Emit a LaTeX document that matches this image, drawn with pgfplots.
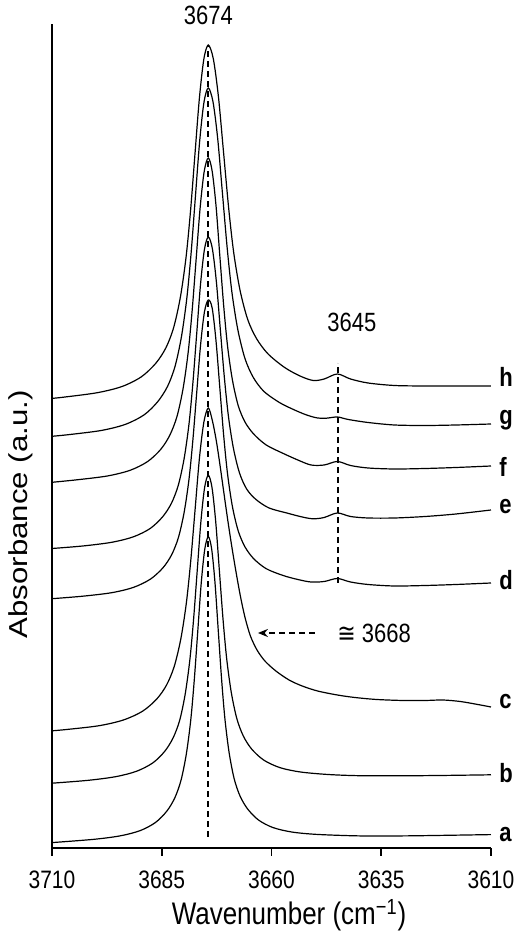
\documentclass[border=0pt]{standalone}
\usepackage{fontspec}
\setmainfont{Liberation Sans}
\newfontfamily\symfont{DejaVu Sans}
\usepackage{graphicx}
\usepackage{pgfplots}
\pgfplotsset{compat=1.18}
\usetikzlibrary{arrows.meta}
\newcommand\vs[1]{\scalebox{1}[1.2]{#1}}
\tikzset{lab/.style={font=\fontsize{11}{13}\selectfont\bfseries, anchor=west, inner sep=0pt, xshift=4pt}}

\begin{document}
\begin{tikzpicture}
\begin{axis}[
  scale only axis,
  width=219.5pt, height=412pt,
  xmin=3610, xmax=3710, ymin=0, ymax=824,
  x dir=reverse,
  axis x line=bottom, axis y line=left,
  axis line style={-, line width=1pt},
  xtick={3610,3635,3660,3685,3710},
  ytick=\empty,
  tick align=outside,
  major tick length=4pt,
  xtick style={line width=0.8pt, black},
  /pgf/number format/assume math mode=true,
  /pgf/number format/1000 sep={},
  xticklabel={\vs{\pgfmathprintnumber[1000 sep={}]{\tick}}},
  xticklabel style={font=\fontsize{10.5}{12}\selectfont, yshift=-4pt},
  xlabel={\vs{Wavenumber (cm\textsuperscript{\char"2212 1})}},
  xlabel style={font=\fontsize{13}{15}\selectfont, at={(rel axis cs:0.54,0)}, anchor=center, yshift=-33.5pt},
  ylabel={\scalebox{1.2}[1]{Absorbance (a.u.)}},
  ylabel style={font=\fontsize{13}{15}\selectfont, at={(rel axis cs:-0.0706,0.405)}, anchor=center},
  clip=false,
  cycle list={{black, solid}},
  every axis plot/.append style={black, solid, line width=0.6pt, smooth, tension=0.5, no markers},
]
% a
\addplot coordinates {(3710,5.4) (3700.4,8.7) (3694.4,12.2) (3689.9,17.4) (3686.4,25.6) (3683.8,37.1) (3682.0,50.4) (3680.6,67.9) (3679.4,94) (3678.4,127.6) (3677.6,167.4) (3676.8,216.3) (3676.0,265.2) (3675.2,298.8) (3674.4,311.3)
 (3673.64,299.3) (3672.88,265.9) (3672.12,217.1) (3671.36,168.4) (3670.6,128.7) (3669.65,95.3) (3668.51,69.4) (3667.18,52.1) (3665.47,39.2) (3663.0,28.1) (3659.7,20.5) (3655.4,16) (3649.7,13.6) (3640,12.1) (3630,12.1) (3620,12.7) (3610,13.4)};
% b
\addplot coordinates {(3710,64.8) (3701.7,67.7) (3695.4,71.4) (3690.7,76.8) (3687.0,85.2) (3684.3,96.8) (3682.4,110.2) (3680.9,127.9) (3679.65,154.1) (3678.6,188) (3677.76,228) (3676.92,277.2) (3676.08,326.5) (3675.24,360.3) (3674.4,372.8)
 (3673.56,360.7) (3672.72,327) (3671.88,277.9) (3671.04,228.8) (3670.2,189) (3669.15,155.3) (3667.89,129.3) (3666.42,112) (3664.53,99) (3661.8,88) (3658.1,80.4) (3653.4,76) (3647.1,73.5) (3640,72.3) (3630,72.2) (3620,72.6) (3610,73.2)};
% c
\addplot coordinates {(3710,117.2) (3706.9,118.4) (3699.4,122.2) (3693.8,127.9) (3689.4,136.7) (3686.15,148.9) (3683.9,163) (3682.15,181.6) (3680.65,209.2) (3679.4,244.8) (3678.4,286.9) (3677.4,338.7) (3676.4,390.5) (3675.4,426) (3674.4,440)
 (3673.5,428) (3672.6,408) (3671.8,385) (3671,360) (3670.1,332) (3669.1,303) (3668,274) (3667,250) (3666,230) (3664.8,212) (3663.3,198) (3661.5,187) (3659,177) (3656,168) (3653,162) (3649.5,157) (3645,153) (3641,150.5) (3636,148.5) (3630,147.5) (3625,147.5) (3621,148) (3617,146.5) (3613,143.5) (3610,141)};
% d
\addplot coordinates {(3710,249.3) (3703,251.8) (3696.4,255.3) (3691.45,260.6) (3687.6,268.8) (3684.74,280.1) (3682.76,293.1) (3681.22,310.2) (3679.9,335.6) (3678.8,368.5) (3677.92,407.3) (3677.04,455.1) (3676.16,502.9) (3675.28,535.9) (3674.4,548)
 (3673.52,540.1) (3672.64,507.3) (3671.76,459.6) (3670.88,411.9) (3670.0,373.7) (3668.9,341.4) (3667.58,317.1) (3666.04,301.1) (3664.06,289.3) (3661.2,279.3) (3657.35,272.5) (3654,268.5) (3651,266) (3648,266.5) (3645,269.5) (3642,266) (3638,263.5) (3632,262) (3625,262.5) (3618,263.5) (3610,265)};
% e
\addplot coordinates {(3710,299.5) (3703,302) (3696.4,305.7) (3691.45,311.2) (3687.6,319.6) (3684.74,331.5) (3682.76,345) (3681.22,362.9) (3679.9,389.4) (3678.8,423.7) (3677.92,464.2) (3677.04,514.1) (3676.16,564) (3675.28,598.4) (3674.4,611)
 (3673.48,599.6) (3672.56,566.4) (3671.64,517.6) (3670.72,469.8) (3669.8,431.4) (3668.65,399.2) (3667.27,374.8) (3665.66,359) (3663.59,348.7) (3660.6,340.1) (3656.6,335.1) (3653,331) (3650.5,329.2) (3648,330.5) (3645,335) (3642,331.5) (3638,330) (3632,330) (3625,331.5) (3618,334) (3610,338)};
% f
\addplot coordinates {(3710,365.7) (3704.3,368.2) (3697.4,372) (3692.2,377.7) (3688.2,386.5) (3685.2,398.8) (3683.14,413) (3681.53,431.5) (3680.15,459.2) (3679.0,494.9) (3678.08,537.1) (3677.16,589.1) (3676.24,641) (3675.32,676.8) (3674.4,690)
 (3673.52,677) (3672.64,642.4) (3671.76,591.6) (3670.88,541.7) (3670.0,501.6) (3668.9,468) (3667.58,442.4) (3666.04,426) (3664.06,414) (3661.2,403) (3657.35,394.6) (3654,388) (3651,383) (3648,383) (3645,386.5) (3642,382.5) (3638,380) (3632,379) (3625,379.5) (3618,380.5) (3610,382)};
% g
\addplot coordinates {(3710,411.7) (3706.1,413.4) (3698.8,417.5) (3693.3,423.6) (3689.0,433.2) (3685.9,446.4) (3683.67,461.7) (3681.96,481.8) (3680.5,511.6) (3679.28,550.1) (3678.3,595.5) (3677.33,651.4) (3676.35,707.3) (3675.38,745.8) (3674.4,760)
 (3673.32,746.1) (3672.24,708.8) (3671.16,654.1) (3670.08,599.4) (3669.0,555.2) (3667.65,517.9) (3666.03,489.3) (3664.14,470.5) (3661.71,456.5) (3658.2,445.5) (3655,438.5) (3652,433) (3649.5,430) (3647.5,429.8) (3645,431) (3642.5,428.5) (3638,425.5) (3632,423) (3625,422.5) (3618,423) (3610,424)};
% h
\addplot coordinates {(3710,449.6) (3707.4,450.8) (3699.8,455.2) (3694.1,461.4) (3689.64,471.2) (3686.34,484.8) (3684.05,500.2) (3682.27,520.7) (3680.75,551) (3679.48,590.1) (3678.46,636.2) (3677.45,692.9) (3676.43,749.5) (3675.42,788.6) (3674.4,803)
 (3673.24,788.9) (3672.08,751) (3670.92,695.6) (3669.76,640.1) (3668.6,595.2) (3667.15,557.4) (3665.41,528.4) (3663.38,509.2) (3660.77,494) (3657,480.5) (3653.5,472) (3650.5,467.5) (3648,469) (3645,474) (3642,469) (3638,465) (3632,462.5) (3625,462) (3618,462) (3610,462)};
% marker lines
\addplot[sharp plot, line width=0.9pt, dash pattern=on 3pt off 2pt] coordinates {(3674.4,11) (3674.4,803)};
\addplot[sharp plot, line width=0.9pt, dash pattern=on 3pt off 2pt] coordinates {(3644.9,265) (3644.9,485)};
\draw[line width=0.9pt, dash pattern=on 3pt off 2pt, -{Stealth[length=5pt,width=4pt]}] (axis cs:3650.1,215) -- (axis cs:3663.1,215);
\node[font=\fontsize{11}{13}\selectfont, anchor=west, inner sep=0pt] at (axis cs:3645.1,215) {\vs{{\symfont ≅}\ 3668}};
\node[font=\fontsize{11}{13}\selectfont] at (axis cs:3674.4,833) {\vs{3674}};
\node[font=\fontsize{11}{13}\selectfont] at (axis cs:3641.7,526) {\vs{3645}};
% curve letters
\node[lab] at (axis cs:3610,13) {\vs{a}};
\node[lab] at (axis cs:3610,75) {\vs{b}};
\node[lab] at (axis cs:3610,146) {\vs{c}};
\node[lab] at (axis cs:3610,268) {\vs{d}};
\node[lab] at (axis cs:3610,341) {\vs{e}};
\node[lab] at (axis cs:3610,381) {\vs{f}};
\node[lab] at (axis cs:3610,428) {\vs{g}};
\node[lab] at (axis cs:3610,471) {\vs{h}};
\coordinate (BL) at (rel axis cs:-0.11845,-0.11044);
\coordinate (TR) at (rel axis cs:1.06378,1.02913);
\end{axis}
\pgfresetboundingbox
\path (BL) rectangle (TR);
\end{tikzpicture}
\end{document}
